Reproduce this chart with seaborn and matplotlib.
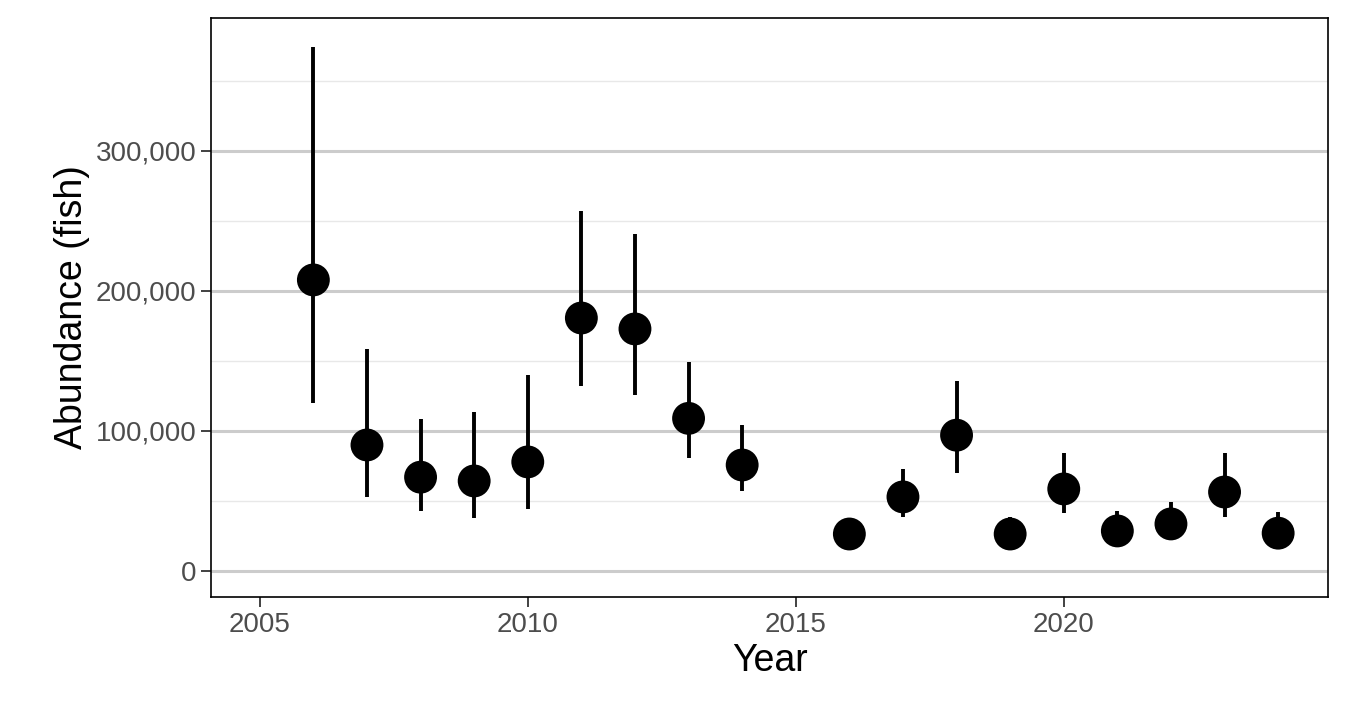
import numpy as np
import pandas as pd
import matplotlib.pyplot as plt
import seaborn as sns
from matplotlib.ticker import FuncFormatter, MultipleLocator

years = [2006, 2007, 2008, 2009, 2010, 2011, 2012, 2013, 2014,
         2016, 2017, 2018, 2019, 2020, 2021, 2022, 2023, 2024]
abundance = [207900, 90000, 67000, 64300, 77900, 180700, 172900, 109000, 75700,
             26400, 52900, 97000, 26400, 58600, 28600, 33600, 56400, 27000]
lower = [120000, 52900, 42900, 37900, 44300, 132000, 126000, 80700, 57000,
         20700, 38600, 70000, 18600, 41400, 20000, 25000, 38600, 18600]
upper = [374000, 158600, 108600, 113600, 140000, 257000, 241000, 149000, 104000,
         35700, 72900, 136000, 38600, 84000, 42900, 49000, 84000, 42000]

df = pd.DataFrame({"Year": years, "Abundance": abundance, "lo": lower, "hi": upper})

sns.set_theme(style="ticks")
plt.rcParams['font.family'] = ['Liberation Sans', 'DejaVu Sans']

fig = plt.figure(figsize=(13.5, 7.19), dpi=100)
ax = fig.add_axes([211 / 1350, 1 - 597 / 719, (1328 - 211) / 1350, (597 - 18) / 719])

ax.vlines(df["Year"], df["lo"], df["hi"], color="black", linewidth=2.8, zorder=3)
sns.scatterplot(data=df, x="Year", y="Abundance", ax=ax, color="black",
                s=560, edgecolor="none", zorder=4)

ax.set_xlim(2004.09, 2024.93)
ax.set_ylim(-18600, 395000)
ax.xaxis.set_major_locator(MultipleLocator(5))
ax.yaxis.set_major_locator(MultipleLocator(100000))
ax.yaxis.set_minor_locator(MultipleLocator(50000))
ax.yaxis.set_major_formatter(FuncFormatter(lambda v, p: f"{int(v):,}"))
ax.grid(axis="y", which="major", color="#cccccc", linewidth=2.2)
ax.grid(axis="y", which="minor", color="#e8e8e8", linewidth=1)
ax.grid(axis="x", visible=False)
ax.set_axisbelow(True)
for s in ax.spines.values():
    s.set_visible(True)
    s.set_color("black")
    s.set_linewidth(1.2)
ax.tick_params(axis="both", which="major", length=7, width=1.3, color="#333333",
               labelsize=20, labelcolor="#4d4d4d", left=True, bottom=True)
ax.tick_params(axis="y", which="minor", length=0)
ax.set_xlabel("Year", fontsize=27, color="black")
ax.set_ylabel("Abundance (fish)", fontsize=27, color="black")

fig.savefig("out.png", dpi=100)
